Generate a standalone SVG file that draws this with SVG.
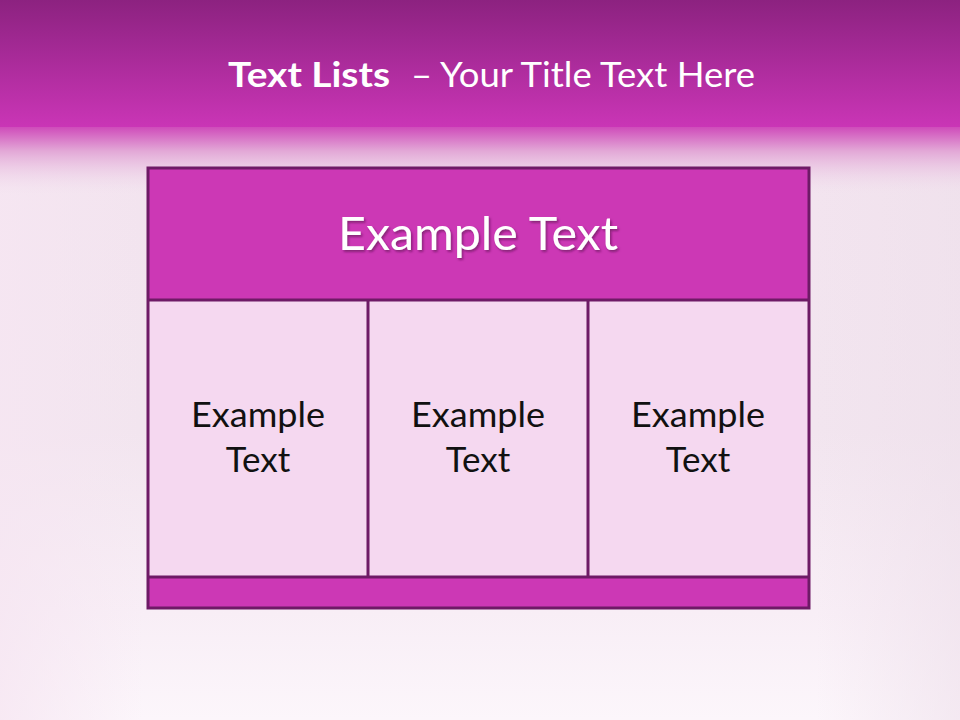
<svg xmlns="http://www.w3.org/2000/svg" width="960" height="720" viewBox="0 0 960 720">
<defs>
<linearGradient id="hdr" x1="0" y1="0" x2="0" y2="1">
<stop offset="0" stop-color="#8C2280"/>
<stop offset="1" stop-color="#CA35B6"/>
</linearGradient>
<linearGradient id="fade" x1="0" y1="0" x2="0" y2="1">
<stop offset="0" stop-color="#CE48B9"/>
<stop offset="0.35" stop-color="#E2A6D6"/>
<stop offset="1" stop-color="#F2E4EF" stop-opacity="0"/>
</linearGradient>
<linearGradient id="bg" x1="0" y1="0" x2="0" y2="1">
<stop offset="0" stop-color="#F3E3EF"/>
<stop offset="0.6" stop-color="#F2E5EF"/>
<stop offset="0.85" stop-color="#F8EEF6"/>
<stop offset="1" stop-color="#FCF6FB"/>
</linearGradient>
<linearGradient id="side" x1="0" y1="0" x2="1" y2="0">
<stop offset="0" stop-color="#F6E6F2" stop-opacity="0.8"/>
<stop offset="0.15" stop-color="#F6E6F2" stop-opacity="0"/>
<stop offset="0.85" stop-color="#EEE0EB" stop-opacity="0"/>
<stop offset="1" stop-color="#EEE0EB" stop-opacity="0.6"/>
</linearGradient>
<filter id="sh" x="-10%" y="-20%" width="120%" height="150%">
<feDropShadow dx="1.5" dy="2" stdDeviation="1" flood-color="#5A0F50" flood-opacity="0.6"/>
</filter>
</defs>
<style>
.t{font-family:Lato,"Open Sans",sans-serif;fill:#fff}
.c{font-family:Lato,"Open Sans",sans-serif;fill:#111;font-size:35px;text-anchor:middle}
.ln{stroke:#6E1A66;stroke-width:3;fill:none}
</style>
<rect x="0" y="0" width="960" height="720" fill="url(#bg)"/>
<rect x="0" y="0" width="960" height="720" fill="url(#side)"/>
<rect x="0" y="126" width="960" height="70" fill="url(#fade)"/>
<rect x="0" y="0" width="960" height="127" fill="url(#hdr)"/>
<g id="title">
<text class="t" x="228" y="87" font-size="34" font-weight="bold" textLength="162" lengthAdjust="spacingAndGlyphs">Text Lists</text>
<text class="t" x="411" y="87" font-size="34" textLength="344" lengthAdjust="spacingAndGlyphs">– Your Title Text Here</text>
</g>
<g id="header">
<rect x="148" y="168" width="661" height="132" fill="#CC38B5"/>
<text class="t" x="478" y="250" font-size="47" text-anchor="middle" textLength="280" lengthAdjust="spacingAndGlyphs" filter="url(#sh)">Example Text</text>
</g>
<g id="cell1">
<rect x="148" y="300" width="220" height="277" fill="#F5D8F0"/>
<text class="c" x="258" y="427" textLength="134" lengthAdjust="spacingAndGlyphs">Example</text>
<text class="c" x="258" y="472">Text</text>
</g>
<g id="cell2">
<rect x="368" y="300" width="220" height="277" fill="#F5D8F0"/>
<text class="c" x="478" y="427" textLength="134" lengthAdjust="spacingAndGlyphs">Example</text>
<text class="c" x="478" y="472">Text</text>
</g>
<g id="cell3">
<rect x="588" y="300" width="221" height="277" fill="#F5D8F0"/>
<text class="c" x="698" y="427" textLength="134" lengthAdjust="spacingAndGlyphs">Example</text>
<text class="c" x="698" y="472">Text</text>
</g>
<g id="footer">
<rect x="148" y="577" width="661" height="31" fill="#CC38B5"/>
</g>
<g id="connectors">
<rect class="ln" x="148" y="168" width="661" height="440"/>
<line class="ln" x1="148" y1="300" x2="809" y2="300"/>
<line class="ln" x1="148" y1="577" x2="809" y2="577"/>
<line class="ln" x1="368" y1="300" x2="368" y2="577"/>
<line class="ln" x1="588" y1="300" x2="588" y2="577"/>
</g>
</svg>
